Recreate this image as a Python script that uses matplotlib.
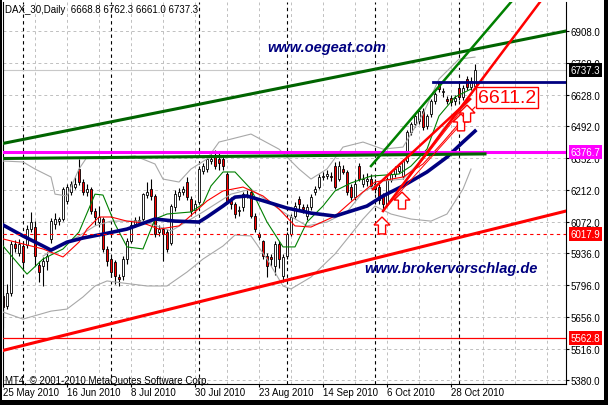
import numpy as np
import matplotlib.pyplot as plt
import matplotlib.transforms as mtransforms
from matplotlib.patches import Polygon, Rectangle

plt.rcParams['font.family'] = ['Liberation Sans', 'DejaVu Sans']

# --- daily candles DAX_30, 25 May 2010 .. 5 Nov 2010 ---
opens = [5748, 5705, 5760, 5976, 5935, 5967, 5970, 6041, 6050, 5884,
         5880, 5901, 5998, 6063, 6076, 6085, 6164, 6203, 6225, 6304,
         6247, 6203, 6216, 6120, 6070, 6085, 5954, 5910, 5897, 5831,
         5836, 5910, 5990, 6063, 6080, 6085, 6190, 6216, 6186, 6028,
         6041, 6028, 5980, 6138, 6186, 6203, 6247, 6173, 6125, 6160,
         6295, 6304, 6339, 6361, 6350, 6350, 6282, 6164, 6151, 6120,
         6138, 6190, 6203, 6098, 6019, 5989, 5923, 5919, 5879, 5976,
         5836, 5923, 6019, 6098, 6173, 6138, 6098, 6138, 6203, 6225,
         6269, 6273, 6275, 6317, 6260, 6304, 6291, 6225, 6181, 6317,
         6240, 6250, 6260, 6240, 6225, 6186, 6151, 6255, 6280, 6295,
         6273, 6339, 6466, 6501, 6514, 6558, 6492, 6545, 6602, 6685,
         6641, 6610, 6615, 6600, 6660, 6620, 6700, 6665, 6668.8]
highs = [5760, 5800, 5990, 5995, 5998, 5985, 6060, 6115, 6075, 5900,
         5920, 5940, 6090, 6110, 6095, 6225, 6240, 6250, 6270, 6348,
         6260, 6240, 6225, 6135, 6140, 6095, 5965, 5920, 5905, 5845,
         5925, 6000, 6075, 6095, 6100, 6200, 6247, 6260, 6195, 6060,
         6050, 6040, 6150, 6210, 6220, 6230, 6270, 6185, 6170, 6315,
         6330, 6360, 6370, 6386, 6375, 6365, 6290, 6180, 6160, 6140,
         6205, 6210, 6215, 6110, 6030, 5995, 5935, 5930, 5990, 5990,
         5930, 6030, 6105, 6160, 6185, 6150, 6150, 6195, 6230, 6280,
         6290, 6300, 6290, 6335, 6340, 6320, 6300, 6240, 6260, 6330,
         6280, 6285, 6280, 6260, 6240, 6200, 6270, 6295, 6315, 6330,
         6350, 6475, 6510, 6545, 6570, 6570, 6545, 6610, 6640, 6690,
         6660, 6625, 6630, 6630, 6685, 6670, 6712, 6705, 6762.3]
lows = [5610, 5690, 5750, 5940, 5925, 5870, 5960, 6030, 5880, 5809,
        5792, 5860, 5980, 6040, 6060, 6075, 6150, 6190, 6215, 6235,
        6190, 6185, 6105, 6060, 6050, 5940, 5880, 5830, 5801, 5790,
        5820, 5890, 5980, 6050, 6060, 6075, 6175, 6170, 6005, 6010,
        5901, 5940, 5970, 6120, 6170, 6190, 6170, 6100, 6110, 6150,
        6280, 6290, 6325, 6305, 6300, 6300, 6150, 6130, 6090, 6100,
        6120, 6175, 6090, 6030, 5995, 5910, 5830, 5880, 5840, 5870,
        5810, 5910, 6010, 6090, 6130, 6110, 6080, 6125, 6190, 6215,
        6255, 6260, 6250, 6215, 6250, 6280, 6190, 6170, 6170, 6250,
        6225, 6230, 6220, 6200, 6150, 6120, 6140, 6245, 6270, 6285,
        6260, 6330, 6455, 6490, 6500, 6475, 6480, 6530, 6590, 6640,
        6620, 6590, 6580, 6585, 6605, 6605, 6650, 6650, 6661.0]
closes = [5700, 5760, 5976, 5960, 5976, 5897, 6041, 6072, 5923, 5853,
          5901, 5923, 6076, 6085, 6085, 6216, 6225, 6238, 6240, 6247,
          6203, 6216, 6120, 6094, 6094, 5954, 5901, 5853, 5836, 5822,
          5910, 5990, 6060, 6080, 6076, 6194, 6203, 6186, 6019, 6041,
          6019, 5954, 6142, 6194, 6203, 6216, 6181, 6120, 6150, 6304,
          6317, 6348, 6348, 6317, 6330, 6317, 6164, 6151, 6107, 6125,
          6194, 6186, 6098, 6041, 6006, 5923, 5879, 5910, 5976, 5910,
          5919, 6019, 6094, 6142, 6151, 6129, 6138, 6181, 6216, 6269,
          6273, 6282, 6269, 6225, 6317, 6291, 6203, 6181, 6240, 6260,
          6260, 6260, 6230, 6216, 6170, 6151, 6260, 6282, 6304, 6317,
          6339, 6466, 6501, 6536, 6558, 6488, 6536, 6602, 6632, 6654,
          6645, 6602, 6597, 6615, 6619, 6660, 6665, 6690, 6737.3]

# --- indicators (bar, price) ---
ma_navy_bar = [0, 5, 10, 12, 16, 20, 25, 31, 38, 43, 49, 51, 55, 58, 61, 66, 71,
               77, 83, 87, 91, 95, 100, 106, 111, 115, 118]
ma_navy = [6059, 6011, 5967, 5949, 5984, 6002, 6019, 6041, 6085, 6076, 6072, 6094,
           6142, 6181, 6186, 6160, 6133, 6111, 6098, 6120, 6142, 6186, 6230, 6291,
           6356, 6422, 6470]

ma_green_bar = [0, 6, 10, 15, 19, 23, 25, 28, 31, 35, 38, 41, 47, 50, 52, 55, 58,
                62, 66, 70, 73, 76, 80, 83, 87, 92, 99, 102, 106, 109, 113, 117]
ma_green = [5967, 5844, 5910, 5954, 6028, 6194, 6190, 6063, 5963, 5954, 6085, 6107,
            6116, 6151, 6230, 6291, 6291, 6216, 6072, 5963, 5963, 6072, 6142, 6208,
            6243, 6273, 6282, 6317, 6391, 6536, 6619, 6654]

ma_red_bar = [0, 5, 10, 15, 19, 21, 24, 27, 31, 35, 39, 44, 48, 51, 55, 60, 65,
              69, 73, 77, 83, 87, 93, 100, 105, 110, 115, 118]
ma_red = [5998, 5976, 5954, 5919, 5984, 6041, 6094, 6094, 6076, 6068, 6041, 6055,
          6116, 6164, 6208, 6225, 6186, 6129, 6055, 6050, 6098, 6160, 6247, 6269,
          6326, 6422, 6523, 6575]

bb_up_bar = [0, 5, 8, 12, 13, 16, 19, 21, 25, 33, 38, 40, 44, 47, 51, 54, 57, 62,
             69, 74, 77, 81, 85, 90, 95, 100, 105, 109, 114, 118]
bb_up = [6339, 6335, 6304, 6269, 6194, 6186, 6304, 6356, 6348, 6361, 6326, 6260,
         6247, 6304, 6348, 6422, 6435, 6457, 6391, 6304, 6260, 6304, 6400, 6422,
         6391, 6400, 6545, 6698, 6785, 6794]

bb_mid_bar = [10, 19, 23, 27, 35, 42, 50, 57, 62, 70, 76, 81, 86, 90, 95, 100,
              105, 110, 115, 117]
bb_mid = [5923, 6011, 6055, 6076, 6076, 6033, 6116, 6194, 6216, 6116, 6055, 6072,
          6116, 6203, 6251, 6260, 6348, 6479, 6575, 6610]

bb_lo_bar = [0, 5, 12, 16, 20, 23, 26, 30, 36, 41, 46, 50, 55, 58, 62, 66, 70, 72,
             77, 83, 87, 90, 93, 97, 102, 107, 111, 115, 117]
bb_lo = [5678, 5647, 5682, 5691, 5744, 5792, 5814, 5805, 5792, 5792, 5853, 5910,
         5967, 6015, 6011, 5910, 5792, 5779, 5831, 5932, 6019, 6085, 6142, 6107,
         6085, 6076, 6107, 6216, 6304]

# --- chart objects ---
green_up_bar, green_up = [0, 140.75], [6416, 6908]
green_flat_bar, green_flat = [0, 120.5], [6350, 6370]
green_steep_bar, green_steep = [92, 127.5], [6317, 7045]
red_a_bar, red_a = [95, 134.25], [6120, 7035]
red_b_bar, red_b = [92.5, 116.75], [6216, 6610]
red_fan1_bar, red_fan1 = [95, 114.5], [6120, 6560]
red_fan2_bar, red_fan2 = [95, 116.5], [6120, 6540]
red_base_bar, red_base = [0, 140.75], [5510, 6120]
navy_level_start, navy_level = 107.5, 6685
magenta_level = 6376.7
red_dash_level = 6017.9
red_low_level = 5562.8
last_price = 6737.3

arrow_bar = [94.75, 99.75, 114.5, 116]
arrow_tip = [6094, 6203, 6545, 6584]

month_bars = [5, 27, 49, 71, 93, 114]
date_bars = [0, 16, 32, 48, 64, 80, 96, 112]
date_labels = ['25 May 2010', '16 Jun 2010', '8 Jul 2010', '30 Jul 2010',
               '23 Aug 2010', '14 Sep 2010', '6 Oct 2010', '28 Oct 2010']
price_ticks = [6908, 6768, 6628, 6492, 6352, 6212, 6072, 5936, 5796, 5656, 5516, 5380]

opens, highs, lows, closes = map(np.array, (opens, highs, lows, closes))
bars = np.arange(len(closes))

fig = plt.figure(figsize=(6.08, 4.06), dpi=100, facecolor='black')
fig.patches.append(Rectangle((2 / 608, 5 / 406), 602 / 608, 400 / 406,
                             transform=fig.transFigure, facecolor='white',
                             edgecolor='none', zorder=-10))
ax = fig.add_axes([3 / 608, 1 - 385 / 406, 563 / 608, 382 / 406])
ax.set_xlim(0, 140.75)
ax.set_ylim(5363, 7035)

# grid and period separators
for b in range(0, 141, 8):
    ax.axvline(b, color='#c0c0c0', ls=(0, (3, 3)), lw=0.7, zorder=0.5)
for p in price_ticks:
    ax.axhline(p, color='#c0c0c0', ls=(0, (3, 3)), lw=0.7, zorder=0.5)
for b in month_bars:
    ax.axvline(b, color='black', ls=(0, (3, 3)), lw=0.8, zorder=0.6)

# candles
up = closes >= opens
ax.vlines(bars, lows, highs, color='black', lw=0.8, zorder=2)
body_lo = np.minimum(opens, closes)
body_h = np.maximum(np.abs(closes - opens), 3)
ax.bar(bars, body_h, 0.7, bottom=body_lo, color=np.where(up, 'white', 'red'),
       edgecolor='black', lw=0.6, zorder=2.5)

# indicators
ax.plot(bb_up_bar, bb_up, color='#a8a8a8', lw=0.8, zorder=3)
ax.plot(bb_mid_bar, bb_mid, color='#a8a8a8', lw=0.8, zorder=3)
ax.plot(bb_lo_bar, bb_lo, color='#a8a8a8', lw=0.8, zorder=3)
ax.plot(ma_green_bar, ma_green, color='#008000', lw=0.8, zorder=3.2)
ax.plot(ma_red_bar, ma_red, color='red', lw=0.8, zorder=3.2)
ax.plot(ma_navy_bar, ma_navy, color='#000080', lw=2.6, zorder=3.4)

# trend lines and levels
ax.axhline(last_price, color='#c8c8c8', lw=0.8, zorder=1)
ax.axhline(magenta_level, color='magenta', lw=2.2, zorder=4)
ax.axhline(red_dash_level, color='red', ls=(0, (3, 3)), lw=0.8, zorder=4)
ax.axhline(red_low_level, color='red', lw=0.9, zorder=4)
ax.plot(green_up_bar, green_up, color='#006400', lw=2.2, zorder=4)
ax.plot(green_flat_bar, green_flat, color='#006400', lw=2.2, zorder=4)
ax.plot(green_steep_bar, green_steep, color='#008000', lw=1.8, zorder=4)
ax.plot(red_a_bar, red_a, color='red', lw=1.8, zorder=4)
ax.plot(red_b_bar, red_b, color='red', lw=1.8, zorder=4)
ax.plot(red_fan1_bar, red_fan1, color='red', lw=0.7, zorder=4)
ax.plot(red_fan2_bar, red_fan2, color='red', lw=0.7, zorder=4)
ax.plot(red_base_bar, red_base, color='red', lw=2.2, zorder=4)
ax.plot([navy_level_start, 140.75], [navy_level, navy_level], color='#000080', lw=2, zorder=4)

# hollow up arrows
for b, tip in zip(arrow_bar, arrow_tip):
    verts = [(b, tip), (b + 2, tip - 35), (b + 0.9, tip - 35), (b + 0.9, tip - 74),
             (b - 0.9, tip - 74), (b - 0.9, tip - 35), (b - 2, tip - 35)]
    ax.add_patch(Polygon(verts, closed=True, facecolor='white', edgecolor='red',
                         lw=1, zorder=5))

ax.text(118.75, 6617, '6611.2', color='red', fontsize=14, ha='left', va='center',
        zorder=6, bbox=dict(boxstyle='square,pad=0.1', fc='white', ec='red', lw=1))
ax.text(81, 6838, 'www.oegeat.com', color='#000080', fontsize=10.5,
        fontweight='bold', fontstyle='italic', ha='center', va='center', zorder=7)
ax.text(112, 5871, 'www.brokervorschlag.de', color='#000080', fontsize=10.5,
        fontweight='bold', fontstyle='italic', ha='center', va='center', zorder=7)

# axes
ax.set_xticks(date_bars)
ax.set_xticklabels(date_labels, ha='left')
ax.yaxis.tick_right()
ax.set_yticks(price_ticks)
ax.set_yticklabels(['%.1f' % p for p in price_ticks])
ax.tick_params(axis='x', length=2, pad=0.5, labelsize=7, colors='black')
ax.tick_params(axis='y', length=2, pad=1.5, labelsize=7, colors='black')
ax.spines['top'].set_visible(False)
for s in ('left', 'right', 'bottom'):
    ax.spines[s].set_color('black')
    ax.spines[s].set_linewidth(0.8)

# price tags on the right scale
trans = mtransforms.blended_transform_factory(ax.transAxes, ax.transData)
tags = [(last_price, 'black'), (magenta_level, 'magenta'),
        (red_dash_level, 'red'), (red_low_level, 'red')]
for p, c in tags:
    ax.text(1.008, p, '%.1f' % p, transform=trans, color='white', fontsize=7,
            ha='left', va='center', clip_on=False, zorder=10,
            bbox=dict(boxstyle='square,pad=0.2', fc=c, ec='none'))

fig.text(5 / 608, 1 - 10 / 406, 'DAX_30,Daily  6668.8 6762.3 6661.0 6737.3',
         fontsize=7, color='black', ha='left', va='center')
fig.text(5 / 608, 1 - 381 / 406, 'MT4, \u00a9 2001-2010 MetaQuotes Software Corp.',
         fontsize=7, color='black', ha='left', va='center')

fig.savefig('out.png', dpi=100, facecolor='black')
